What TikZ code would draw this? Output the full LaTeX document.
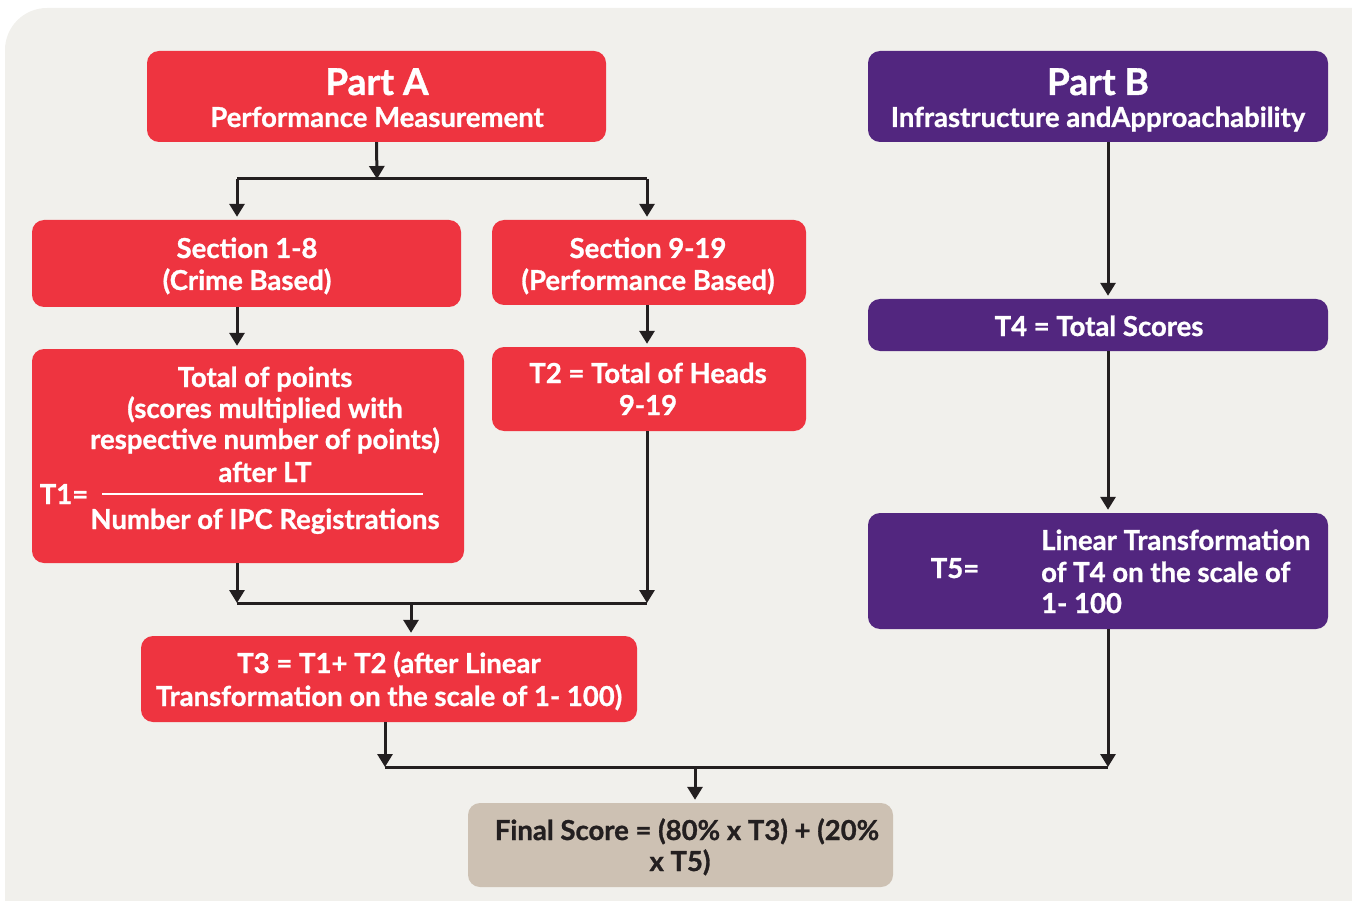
\documentclass[tikz,border=0pt]{standalone}
\usepackage{fontspec}
\setmainfont{Lato}[BoldFeatures={FakeBold=1}]
\usetikzlibrary{arrows.meta}
\definecolor{bgc}{HTML}{F1F0EC}
\definecolor{redc}{HTML}{EE3440}
\definecolor{purc}{HTML}{52267F}
\definecolor{tanc}{HTML}{CDC1B3}
\definecolor{inkc}{HTML}{231F20}
\tikzset{
  box/.style={draw=none, rounded corners=12pt, inner sep=0pt, anchor=center},
  redbox/.style={box, fill=redc},
  purbox/.style={box, fill=purc},
  tanbox/.style={box, fill=tanc},
  txt/.style={anchor=base, inner sep=0pt, text=white, font=\bfseries\fontsize{27.5}{32}\selectfont},
  ttl/.style={txt, font=\bfseries\fontsize{37}{42}\selectfont},
  dtxt/.style={txt, text=inkc},
  ln/.style={draw=inkc, line width=3pt},
  arr/.style={ln, -{Triangle[width=15pt,length=13pt]}, shorten >=3pt},
}
\begin{document}
\begin{tikzpicture}[x=1pt,y=-1pt]
\useasboundingbox (0,0) rectangle (1352,901);
\fill[bgc, rounded corners=42pt] (5,8) rectangle (1400,950);
% boxes
\node[redbox, minimum width=459pt, minimum height=91pt] (pa) at (376.5,96.5) {};
\node[purbox, minimum width=460pt, minimum height=91pt] (pb) at (1098,96.5) {};
\node[redbox, minimum width=429pt, minimum height=87pt] (s1) at (246.5,263.5) {};
\node[redbox, minimum width=314pt, minimum height=85pt] (s2) at (649,262.5) {};
\node[redbox, minimum width=432pt, minimum height=214pt] (t1) at (248,456) {};
\node[redbox, minimum width=314pt, minimum height=84pt] (t2) at (649,389) {};
\node[purbox, minimum width=460pt, minimum height=52pt] (t4) at (1098,325) {};
\node[purbox, minimum width=460pt, minimum height=116pt] (t5) at (1098,571) {};
\node[redbox, minimum width=496pt, minimum height=86pt] (t3) at (389,679) {};
\node[tanbox, minimum width=425pt, minimum height=84pt] (fs) at (680.5,845) {};
% texts
\node[ttl] (paT) at (377,95) {Part A};
\node[txt] (paS) at (377,127) {Performance Measurement};
\node[ttl] (pbT) at (1098,95) {Part B};
\node[txt] (pbS) at (1098,127) {Infrastructure andApproachability};
\node[txt] (s1a) at (247,258) {Section 1-8};
\node[txt] (s1b) at (247,290) {(Crime Based)};
\node[txt] (s2a) at (648,258) {Section 9-19};
\node[txt] (s2b) at (648,290) {(Performance Based)};
\node[txt] (t1a) at (265,387) {Total of points};
\node[txt] (t1b) at (265,418) {(scores multiplied with};
\node[txt] (t1c) at (265,449) {respective number of points)};
\node[txt] (t1d) at (265,482) {after LT};
\node[txt] (t1e) at (265,529) {Number of IPC Registrations};
\node[txt] (t1f) at (64,504) {T1=};
\coordinate (fl) at (102,494);
\coordinate (fr) at (423,494);
\draw[draw=white, line width=1.8pt] (fl) -- (fr);
\node[txt] (t2a) at (648,383) {T2 = Total of Heads};
\node[txt] (t2b) at (648,415) {9-19};
\node[txt] (t4a) at (1099,336) {T4 = Total Scores};
\node[txt] (t5a) at (955,578) {T5=};
\node[txt, anchor=base west] (t5b) at (1041,550) {Linear Transformation};
\node[txt, anchor=base west] (t5c) at (1041,582) {of T4 on the scale of};
\node[txt, anchor=base west] (t5d) at (1041,613) {1- 100};
\node[txt] (t3a) at (389,673) {T3 = T1+ T2 (after Linear};
\node[txt] (t3b) at (389,706) {Transformation on the scale of 1- 100)};
\node[dtxt] (fsa) at (687,840) {Final Score = (80\% x T3) + (20\%};
\node[dtxt] (fsb) at (680,871) {x T5)};
% connectors
\coordinate (jA) at (377,179);
\coordinate (jAL) at (237,179);
\coordinate (jAR) at (647,179);
\draw[arr, shorten >=0pt] (pa.south) -- (jA);
\draw[ln] (jAL) -- (jAR);
\draw[arr] (jAL) -- (jAL |- s1.north);
\draw[arr] (jAR) -- (jAR |- s2.north);
\draw[arr] (jAL |- s1.south) -- (jAL |- t1.north);
\draw[arr] (jAR |- s2.south) -- (jAR |- t2.north);
\coordinate (jBL) at (237,603);
\coordinate (jBR) at (647,603);
\coordinate (jBM) at (411,603);
\draw[arr, shorten >=0pt] (jBL |- t1.south) -- (jBL);
\draw[arr, shorten >=0pt] (jBR |- t2.south) -- (jBR);
\draw[ln] (jBL) -- (jBR);
\draw[arr] (jBM) -- (jBM |- t3.north);
\coordinate (jCL) at (385,767);
\coordinate (jCR) at (1108,767);
\coordinate (jCM) at (695,767);
\coordinate (xB) at (1108,0);
\draw[arr] (xB |- pb.south) -- (xB |- t4.north);
\draw[arr] (xB |- t4.south) -- (xB |- t5.north);
\draw[arr, shorten >=0pt] (xB |- t5.south) -- (jCR);
\draw[arr, shorten >=0pt] (jCL |- t3.south) -- (jCL);
\draw[ln] (jCL) -- (jCR);
\draw[arr] (jCM) -- (jCM |- fs.north);
\end{tikzpicture}
\end{document}
